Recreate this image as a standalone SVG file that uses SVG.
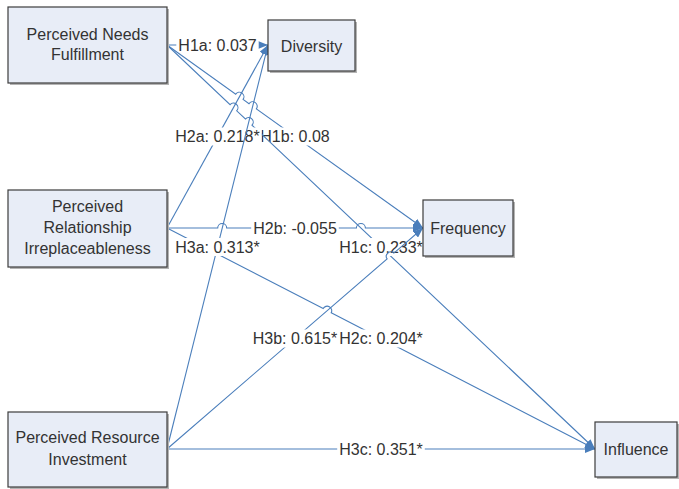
<svg xmlns="http://www.w3.org/2000/svg" width="679" height="489" viewBox="0 0 679 489">
  <style>
    .box { fill: #E8EDF7; stroke: #3C3C3C; stroke-width: 1.2; }
    .shadow { fill: #B4B4B4; }
    .ntext { font-family: "Liberation Sans", Arial, sans-serif; font-size: 16px; fill: #333333; text-anchor: middle; }
    .edge { fill: none; stroke: #4A7EBB; stroke-width: 1.1; marker-end: url(#arrow); }
    .lbg { fill: #FFFFFF; }
    .ltext { font-family: "Liberation Sans", Arial, sans-serif; font-size: 16px; fill: #333333; text-anchor: middle; }
  </style>
  <defs>
    <marker id="arrow" markerUnits="userSpaceOnUse" markerWidth="10" markerHeight="8" refX="10" refY="4" orient="auto">
      <path d="M0,0 L10,4 L0,8 z" fill="#4A7EBB"/>
    </marker>
  </defs>
  <rect width="679" height="489" fill="#FFFFFF"/>

  <!-- connectors, each drawn with its own label; line jumps where paths cross -->
  <g id="connectors">
    <g id="e-h1a">
      <path class="edge" d="M167,45 L268,45"/>
      <rect class="lbg" x="176.3" y="36" width="82.4" height="18"/>
      <text class="ltext" x="217.5" y="51">H1a: 0.037</text>
    </g>
    <g id="e-h1b">
      <path class="edge" d="M167,45 L235.7,94.2 A4.5,4.5 0 0 1 243.1,99.4 L249.0,103.7 A4.5,4.5 0 0 1 256.4,108.9 L423,228"/>
      <rect class="lbg" x="258.3" y="127.5" width="73.4" height="18"/>
      <text class="ltext" x="295" y="142">H1b: 0.08</text>
    </g>
    <g id="e-h1c">
      <path class="edge" d="M167,45 L230.1,104.6 A4.5,4.5 0 0 1 236.7,110.8 L245.4,119.0 A4.5,4.5 0 0 1 252.0,125.2 L595,449"/>
      <rect class="lbg" x="337.2" y="238" width="87.6" height="18"/>
      <text class="ltext" x="381" y="253">H1c: 0.233*</text>
    </g>
    <g id="e-h2a">
      <path class="edge" d="M167,228 L268,45"/>
      <rect class="lbg" x="173.2" y="127.5" width="88.5" height="18"/>
      <text class="ltext" x="217.5" y="142">H2a: 0.218*</text>
    </g>
    <g id="e-h2b">
      <path class="edge" d="M167,228 L217.7,228 A4.5,4.5 0 0 1 226.7,228 L356.4,228 A4.5,4.5 0 0 1 365.4,228 L423,228"/>
      <rect class="lbg" x="251.2" y="219" width="87.6" height="18"/>
      <text class="ltext" x="295" y="234">H2b: -0.055</text>
    </g>
    <g id="e-h2c">
      <path class="edge" d="M167,228 L323.2,308.6 A4.5,4.5 0 0 1 331.2,312.8 L595,449"/>
      <rect class="lbg" x="337.2" y="329.5" width="87.6" height="18"/>
      <text class="ltext" x="381" y="344">H2c: 0.204*</text>
    </g>
    <g id="e-h3a">
      <path class="edge" d="M167,449 L268,45"/>
      <rect class="lbg" x="173.2" y="238" width="88.5" height="18"/>
      <text class="ltext" x="217.5" y="253">H3a: 0.313*</text>
    </g>
    <g id="e-h3b">
      <path class="edge" d="M167,449 L387.1,258.9 A4.5,4.5 0 0 1 393.9,253.1 L423,228"/>
      <rect class="lbg" x="250.7" y="329.5" width="88.5" height="18"/>
      <text class="ltext" x="295" y="344">H3b: 0.615*</text>
    </g>
    <g id="e-h3c">
      <path class="edge" d="M167,449 L595,449"/>
      <rect class="lbg" x="337.2" y="440" width="87.6" height="18"/>
      <text class="ltext" x="381" y="455">H3c: 0.351*</text>
    </g>
  </g>

  <!-- nodes -->
  <g id="needs-fulfillment">
    <rect class="shadow" x="10" y="9" width="159" height="76"/>
    <rect class="box" x="8" y="7" width="159" height="76"/>
    <text class="ntext" x="87.5" y="40">Perceived Needs</text>
    <text class="ntext" x="87.5" y="60">Fulfillment</text>
  </g>
  <g id="diversity">
    <rect class="shadow" x="270" y="22" width="87" height="51"/>
    <rect class="box" x="268" y="20" width="87" height="51"/>
    <text class="ntext" x="311.5" y="51.5">Diversity</text>
  </g>
  <g id="relationship-irreplaceableness">
    <rect class="shadow" x="10" y="192" width="159" height="77"/>
    <rect class="box" x="8" y="190" width="159" height="77"/>
    <text class="ntext" x="87.5" y="212">Perceived</text>
    <text class="ntext" x="87.5" y="233">Relationship</text>
    <text class="ntext" x="87.5" y="254">Irreplaceableness</text>
  </g>
  <g id="frequency">
    <rect class="shadow" x="425" y="202" width="90" height="56"/>
    <rect class="box" x="423" y="200" width="90" height="56"/>
    <text class="ntext" x="468" y="234">Frequency</text>
  </g>
  <g id="resource-investment">
    <rect class="shadow" x="10" y="414" width="159" height="75"/>
    <rect class="box" x="8" y="412" width="159" height="75"/>
    <text class="ntext" x="87.5" y="443">Perceived Resource</text>
    <text class="ntext" x="87.5" y="464.5">Investment</text>
  </g>
  <g id="influence">
    <rect class="shadow" x="597" y="424" width="82" height="55"/>
    <rect class="box" x="595" y="422" width="82" height="55"/>
    <text class="ntext" x="636" y="455">Influence</text>
  </g>
</svg>
